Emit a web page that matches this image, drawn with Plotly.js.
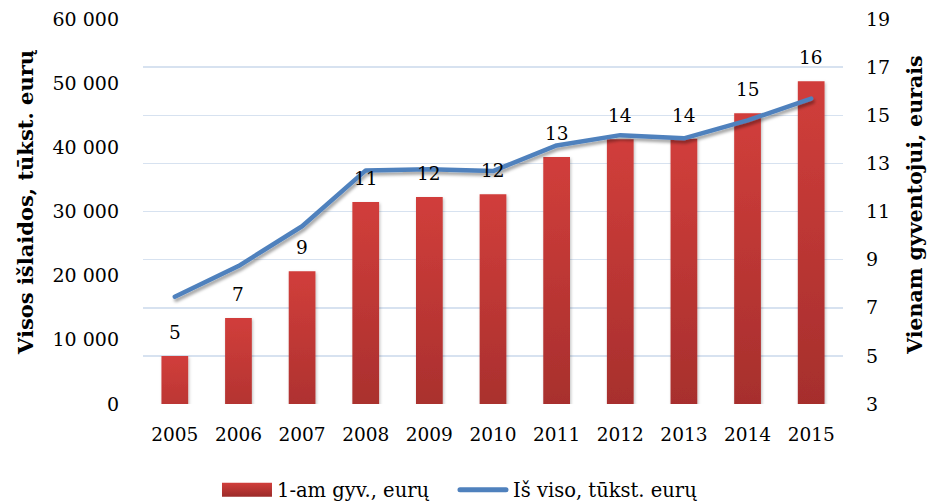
<!DOCTYPE html>
<html>
<head>
<meta charset="utf-8">
<script src="https://cdn.plot.ly/plotly-3.0.1.min.js"></script>
<style>
html,body{margin:0;padding:0;background:#fff;}
#chart{width:935px;height:504px;}
</style>
</head>
<body>
<div id="chart"></div>
<script>
// Data
const years = ["2005","2006","2007","2008","2009","2010","2011","2012","2013","2014","2015"];
const perCapita = [5.0, 6.57, 8.52, 11.39, 11.6, 11.72, 13.27, 14.0, 14.02, 15.08, 16.41]; // 1-am gyv., eurų
const total = [16700, 21500, 27700, 36400, 36600, 36300, 40300, 41900, 41400, 44200, 47600]; // Iš viso, tūkst. eurų
const barName = "1-am gyv., eurų";
const lineName = "Iš viso, tūkst. eurų";
const leftTitle = "Visos išlaidos, tūkst. eurų";
const rightTitle = "Vienam gyventojui, eurais";

const FONT = "DejaVu Serif, Liberation Serif, serif";

const bars = {
  type: "bar",
  name: barName,
  x: years,
  y: perCapita,
  yaxis: "y",
  marker: {color: "#b83533"},
  hoverinfo: "skip"
};
const line = {
  type: "scatter",
  mode: "lines",
  name: lineName,
  x: years,
  y: total,
  yaxis: "y2",
  line: {color: "#4f81bd", width: 4.5},
  hoverinfo: "skip"
};

// data labels (category axis: position given as category index)
const annotations = years.map((yr, i) => ({
  x: i, y: perCapita[i], xref: "x", yref: "y",
  text: String(Math.round(perCapita[i])),
  showarrow: false, yanchor: "bottom", yshift: 11,
  font: {family: FONT, size: 18.5, color: "#000"}
}));
annotations.push({
  text: "<b>" + leftTitle + "</b>", textangle: -90,
  xref: "paper", yref: "paper", x: -0.167, y: 0.525,
  xanchor: "center", yanchor: "middle", showarrow: false,
  font: {family: FONT, size: 21, color: "#000"}
});
annotations.push({
  text: "<b>" + rightTitle + "</b>", textangle: -90,
  xref: "paper", yref: "paper", x: 1.103, y: 0.515,
  xanchor: "center", yanchor: "middle", showarrow: false,
  font: {family: FONT, size: 20.5, color: "#000"}
});

const layout = {
  width: 935, height: 504,
  margin: {l: 143, r: 92, t: 19, b: 100},
  paper_bgcolor: "#fff", plot_bgcolor: "#fff",
  separators: ", ",
  font: {family: FONT, size: 19, color: "#000"},
  bargap: 0.58,
  showlegend: true,
  legend: {
    orientation: "h", xref: "paper", x: 0.1057, xanchor: "left",
    yref: "container", y: 0.0665, yanchor: "top",
    font: {family: FONT, size: 19.5, color: "#000"},
    itemwidth: 50,
    traceorder: "normal", bgcolor: "rgba(0,0,0,0)"
  },
  xaxis: {
    type: "category",
    categoryorder: "array", categoryarray: years,
    range: [-0.5, years.length - 0.5], autorange: false,
    showgrid: false, zeroline: false, showline: false,
    ticks: "outside", ticklen: 0, ticklabelstandoff: 14,
    tickfont: {family: FONT, size: 18.5, color: "#000"}
  },
  yaxis: {
    side: "right",
    range: [3, 19], dtick: 2, tick0: 3,
    showgrid: true, gridcolor: "#d7e2f0", gridwidth: 1.5,
    zeroline: false, showline: false,
    ticks: "", ticklabelstandoff: 22,
    tickfont: {family: FONT, size: 19, color: "#000"}
  },
  yaxis2: {
    overlaying: "y", side: "left",
    range: [0, 60000], dtick: 10000,
    tickformat: ",d",
    showgrid: false, zeroline: false, showline: false,
    ticks: "", ticklabelstandoff: 23,
    tickfont: {family: FONT, size: 19, color: "#000"}
  },
  annotations: annotations
};

Plotly.newPlot("chart", [bars, line], layout, {staticPlot: true}).then(gd => {
  const svg = gd.querySelector("svg.main-svg");
  const ns = "http://www.w3.org/2000/svg";
  const defs = svg.querySelector("defs");
  const grad = document.createElementNS(ns, "linearGradient");
  grad.setAttribute("id", "barGrad");
  grad.setAttribute("x1", "0"); grad.setAttribute("y1", "0");
  grad.setAttribute("x2", "0"); grad.setAttribute("y2", "1");
  [["0", "#d13e3b"], ["1", "#9c2b29"]].forEach(([o, c]) => {
    const s = document.createElementNS(ns, "stop");
    s.setAttribute("offset", o); s.setAttribute("stop-color", c);
    grad.appendChild(s);
  });
  defs.appendChild(grad);
  const filt = document.createElementNS(ns, "filter");
  filt.setAttribute("id", "shadow");
  filt.setAttribute("x", "-10%"); filt.setAttribute("y", "-10%");
  filt.setAttribute("width", "130%"); filt.setAttribute("height", "140%");
  const ds = document.createElementNS(ns, "feDropShadow");
  ds.setAttribute("dx", "1.5"); ds.setAttribute("dy", "3");
  ds.setAttribute("stdDeviation", "1.8");
  ds.setAttribute("flood-color", "#000"); ds.setAttribute("flood-opacity", "0.35");
  filt.appendChild(ds);
  defs.appendChild(filt);
  const filt2 = filt.cloneNode(true);
  filt2.setAttribute("id", "shadow2");
  filt2.firstChild.setAttribute("dx", "1"); filt2.firstChild.setAttribute("dy", "1.5");
  filt2.firstChild.setAttribute("flood-opacity", "0.25");
  defs.appendChild(filt2);

  gd.querySelectorAll(".barlayer .point path").forEach(p => {
    p.style.fill = "url(#barGrad)";
    p.setAttribute("filter", "url(#shadow2)");
  });
  gd.querySelectorAll(".scatterlayer .js-line").forEach(p => {
    p.setAttribute("filter", "url(#shadow)");
    p.style.strokeLinejoin = "round";
    p.style.strokeLinecap = "round";
  });
  // legend symbols: wide swatch for bars, longer rounded line; spacing as in reference
  const sb = gd.querySelector(".legend .scrollbox");
  if (sb) sb.removeAttribute("clip-path");
  const items = gd.querySelectorAll(".legend .traces");
  if (items[0]) {
    const p = items[0].querySelector(".legendpoints path");
    if (p) { p.setAttribute("d", "M-25,-7h50v14h-50z"); p.style.fill = "url(#barGrad)"; p.style.stroke = "none"; }
  }
  if (items[1]) {
    const p = items[1].querySelector(".legendlines path");
    if (p) { p.setAttribute("d", "M7,0h46"); p.style.strokeLinecap = "round"; p.style.strokeWidth = "5px"; }
    const tr = items[1].getAttribute("transform") || "";
    const m = tr.match(/translate\(\s*([-\d.]+)[ ,]+([-\d.]+)\s*\)/);
    const ty = m ? m[2] : "0";
    items[1].setAttribute("transform", "translate(236," + ty + ")");
  }
});
</script>
</body>
</html>
